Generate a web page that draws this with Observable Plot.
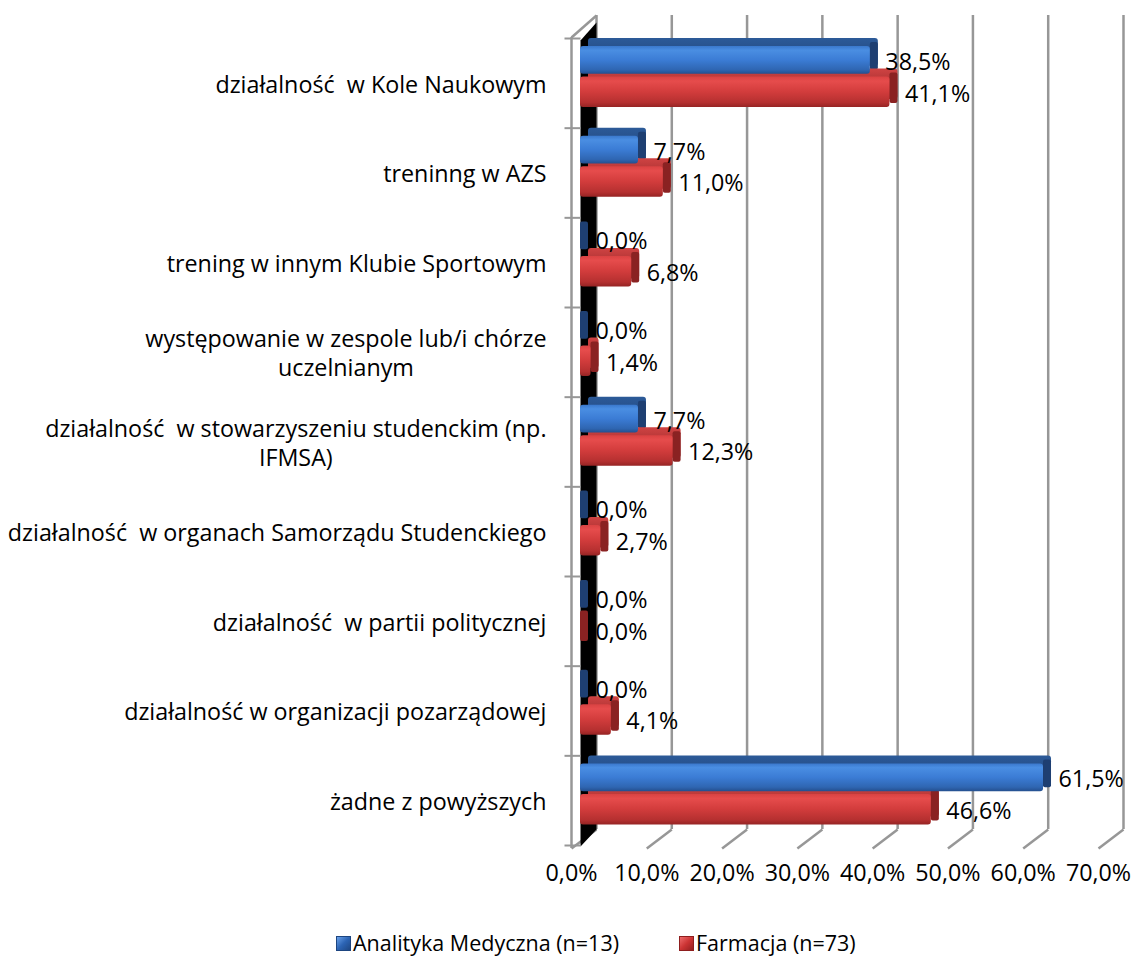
<!DOCTYPE html>
<html><head><meta charset="utf-8">
<script src="https://cdn.jsdelivr.net/npm/d3@7"></script>
<script src="https://cdn.jsdelivr.net/npm/@observablehq/plot@0.6"></script>
<style>
body{margin:0;background:#fff;font-family:"Open Sans",sans-serif;}
#chart svg text{white-space:pre;}
.leg{position:absolute;top:928px;height:30px;display:flex;align-items:center;font-size:21.5px;line-height:30px;color:#000;font-family:"Open Sans",sans-serif;white-space:pre;}
.leg svg{margin-right:2px;}
</style></head><body>
<div id="chart"></div>
<div class="leg" id="leg0" style="left:336px"></div>
<div class="leg" id="leg1" style="left:679px"></div>
<script>
const categories = [
  "działalność  w Kole Naukowym",
  "treninng w AZS",
  "trening w innym Klubie Sportowym",
  "występowanie w zespole lub/i chórze\nuczelnianym",
  "działalność  w stowarzyszeniu studenckim (np.\nIFMSA)",
  "działalność  w organach Samorządu Studenckiego",
  "działalność  w partii politycznej",
  "działalność w organizacji pozarządowej",
  "żadne z powyższych"
];
const analityka = [38.5, 7.7, 0.0, 0.0, 7.7, 0.0, 0.0, 0.0, 61.5];
const farmacja  = [41.1, 11.0, 6.8, 1.4, 12.3, 2.7, 0.0, 4.1, 46.6];
const seriesNames = ["Analityka Medyczna (n=13)", "Farmacja (n=73)"];
const xTicks = [0, 10, 20, 30, 40, 50, 60, 70];

// layout
const W = 1134, H = 900, ML = 580, MR = 27, MT = 38, MB = 55;
const XMAX = 70, N = categories.length;
const kx = (W - ML - MR) / XMAX;      // px per % unit
const ky = (H - MT - MB) / N;         // px per band
const px = p => p / kx, py = p => p / ky;
const BAR = [[0.09, 0.40], [0.43, 0.77]];
const DEP = 8;
const FS = 23.3;

const rows = categories.flatMap((c, i) => [
  {i, s: 0, v: analityka[i]},
  {i, s: 1, v: farmacja[i]}
]);
const fmt = v => v.toFixed(1).replace(".", ",") + "%";
const y1 = d => d.i + BAR[d.s][0], y2 = d => d.i + BAR[d.s][1];

const wall = [
  {x: 0, y: py(2)}, {x: px(16), y: py(-16)},
  {x: px(16), y: N - py(16)}, {x: 0, y: N + py(1)}
];

const fills = {
  front: ["url(#gBlue)", "url(#gRed)"],
  back: ["url(#gBlueB)", "url(#gRedB)"],
  cap: ["#1e3f72", "#8a2222"]
};

const backMarks = [0, 1].flatMap(s => {
  const data = rows.filter(d => d.s === s);
  return [
    Plot.rect(data, {x1: 0, x2: "v", y1, y2, dx: DEP, dy: -DEP, fill: fills.back[s], rx: 3}),
    Plot.rect(data, {x1: "v", x2: "v", y1, y2, insetRight: -DEP, dy: -DEP / 2, fill: fills.cap[s], rx: 2})
  ];
});
const frontMarks = [0, 1].map(s =>
  Plot.rect(rows.filter(d => d.s === s), {x1: 0, x2: "v", y1, y2, fill: fills.front[s], rx: 3})
);

const chart = Plot.plot({
  width: W, height: H,
  marginLeft: ML, marginRight: MR, marginTop: MT, marginBottom: MB,
  x: {domain: [0, XMAX], axis: null},
  y: {domain: [0, N], reverse: true, axis: null},
  style: {fontFamily: "Open Sans, sans-serif", fontSize: FS + "px", color: "#000", background: "#fff"},
  marks: [
    // back-wall gridlines
    Plot.ruleX(xTicks, {x: d => d + px(16), y1: -py(23), y2: N - py(16), stroke: "#979797", strokeWidth: 2.5}),
    // floor edges
    Plot.link(xTicks, {x1: d => d - px(9), y1: N + py(3), x2: d => d + px(16), y2: N - py(16), stroke: "#979797", strokeWidth: 2.5}),
    // left side wall
    Plot.line(wall, {x: "x", y: "y", fill: "black", stroke: "none", curve: "linear-closed"}),
    Plot.ruleX([0], {x: d => d - px(9), y1: -py(1), y2: N + py(3), stroke: "#979797", strokeWidth: 2.5}),
    Plot.link([0], {x1: d => d - px(9), y1: -py(1), x2: d => d + px(16), y2: -py(23), stroke: "#979797", strokeWidth: 2.5}),
    // category ticks
    Plot.link(d3.range(N + 1), {x1: -px(16), x2: 0, y1: d => d, y2: d => d, stroke: "#979797", strokeWidth: 2}),
    ...backMarks,
    ...frontMarks,
    // value labels
    Plot.text(rows, {x: "v", y: d => d.i + (BAR[d.s][0] + BAR[d.s][1]) / 2, text: d => fmt(d.v),
      textAnchor: "start", dx: 15, dy: 2, fontSize: FS, fill: "#000"}),
    // category labels
    Plot.text(categories, {x: 0, y: (d, i) => i + 0.5, text: d => d, textAnchor: "end",
      dx: -34, fontSize: FS, lineHeight: 1.25, fill: "#000"}),
    // x tick labels
    Plot.text(xTicks, {x: d => d, y: N, text: d => fmt(d), dx: -9, dy: 28, fontSize: FS, fill: "#000"})
  ]
});

const defs = document.createElementNS("http://www.w3.org/2000/svg", "defs");
defs.innerHTML = `
<linearGradient id="gBlue" x1="0" y1="0" x2="0" y2="1">
  <stop offset="0" stop-color="#3a78cc"/><stop offset="0.15" stop-color="#4a8ee2"/>
  <stop offset="0.5" stop-color="#3b7cd5"/><stop offset="0.85" stop-color="#2f66b2"/>
  <stop offset="1" stop-color="#244f8e"/></linearGradient>
<linearGradient id="gRed" x1="0" y1="0" x2="0" y2="1">
  <stop offset="0" stop-color="#d94242"/><stop offset="0.15" stop-color="#e64c4c"/>
  <stop offset="0.5" stop-color="#d23c3c"/><stop offset="0.85" stop-color="#b53030"/>
  <stop offset="1" stop-color="#962424"/></linearGradient>
<linearGradient id="gBlueB" x1="0" y1="0" x2="0" y2="1">
  <stop offset="0" stop-color="#2c5a98"/><stop offset="1" stop-color="#1f4379"/></linearGradient>
<linearGradient id="gRedB" x1="0" y1="0" x2="0" y2="1">
  <stop offset="0" stop-color="#cf4343"/><stop offset="1" stop-color="#8c2222"/></linearGradient>`;
chart.prepend(defs);
document.getElementById("chart").append(chart);

// center the lines of multi-line category labels
chart.querySelectorAll("text").forEach(t => {
  const spans = t.querySelectorAll("tspan");
  if (spans.length > 1) {
    const w = Math.max(...Array.from(spans, s => s.getComputedTextLength()));
    t.setAttribute("text-anchor", "middle");
    spans.forEach(s => s.setAttribute("x", -w / 2));
  }
});

// legend
const legColors = [["#6fa6ee", "#2c64b4", "#1d4580"], ["#f07070", "#cc3434", "#8e1e1e"]];
seriesNames.forEach((name, s) => {
  const [a, b, c] = legColors[s];
  document.getElementById("leg" + s).innerHTML =
    `<svg width="15" height="15"><defs><linearGradient id="lg${s}" x1="0" y1="0" x2="1" y2="1">
      <stop offset="0" stop-color="${a}"/><stop offset="0.5" stop-color="${b}"/><stop offset="1" stop-color="${c}"/>
     </linearGradient></defs><rect x="0.5" y="0.5" width="14" height="14" fill="url(#lg${s})" stroke="${c}" stroke-width="1"/></svg>${name}`;
});
</script>
</body></html>
